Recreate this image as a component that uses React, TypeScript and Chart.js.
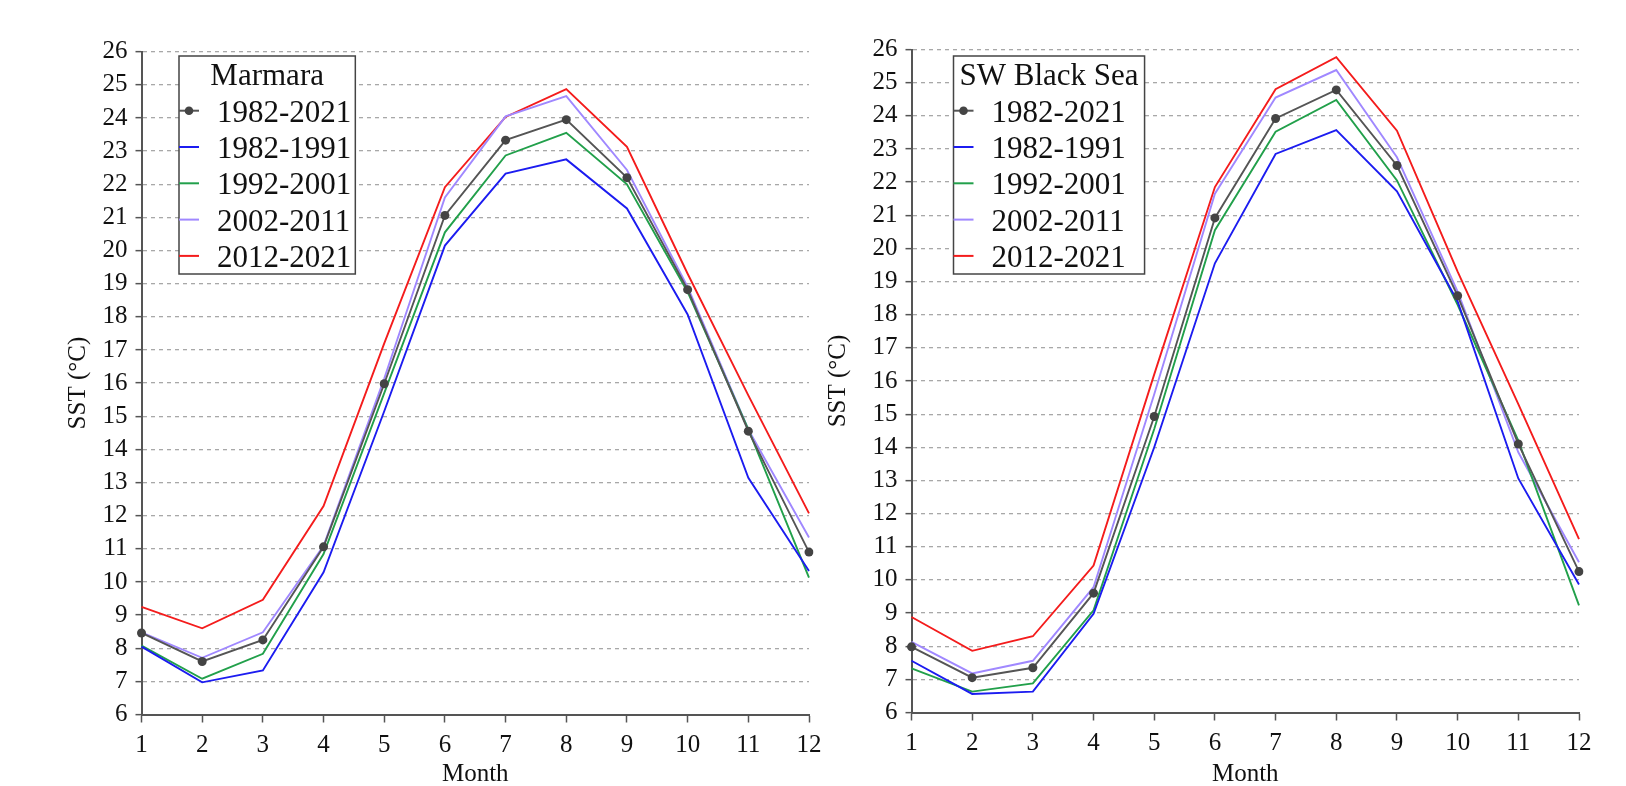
import React, { useEffect, useRef } from 'react';
import { Chart, registerables } from 'chart.js';

Chart.register(...registerables);

// ---------- data ----------
const MONTHS = ['1', '2', '3', '4', '5', '6', '7', '8', '9', '10', '11', '12'];
const SERIES_LABELS = ['1982-2021', '1982-1991', '1992-2001', '2002-2011', '2012-2021'];
const Y_MIN = 6;
const Y_MAX = 26;

const MARMARA_1982_2021 = [8.46, 7.6, 8.25, 11.06, 15.98, 21.06, 23.33, 23.95, 22.2, 18.82, 14.55, 10.9];
const MARMARA_1982_1991 = [8.05, 6.97, 7.33, 10.29, 15.15, 20.15, 22.32, 22.75, 21.27, 18.07, 13.14, 10.33];
const MARMARA_1992_2001 = [8.08, 7.08, 7.83, 10.84, 15.7, 20.55, 22.87, 23.55, 22.0, 18.75, 14.6, 10.13];
const MARMARA_2002_2011 = [8.48, 7.71, 8.48, 11.09, 16.14, 21.6, 24.05, 24.66, 22.43, 18.9, 14.6, 11.34];
const MARMARA_2012_2021 = [9.25, 8.6, 9.46, 12.29, 17.2, 21.91, 24.03, 24.87, 23.13, 19.3, 15.63, 12.07];

const BLACKSEA_1982_2021 = [7.98, 7.05, 7.35, 9.6, 14.93, 20.92, 23.92, 24.78, 22.5, 18.57, 14.1, 10.25];
const BLACKSEA_1982_1991 = [7.56, 6.56, 6.63, 8.98, 14.0, 19.55, 22.85, 23.57, 21.72, 18.4, 13.06, 9.86];
const BLACKSEA_1992_2001 = [7.33, 6.63, 6.88, 9.08, 14.55, 20.55, 23.52, 24.48, 22.05, 18.3, 14.2, 9.23];
const BLACKSEA_2002_2011 = [8.13, 7.18, 7.56, 9.78, 15.6, 21.65, 24.55, 25.38, 22.75, 18.7, 13.85, 10.53];
const BLACKSEA_2012_2021 = [8.88, 7.86, 8.3, 10.43, 16.2, 21.85, 24.8, 25.77, 23.55, 19.3, 15.3, 11.23];

// ---------- styles ----------
const COLORS = ['#555555', '#1c1cf0', '#22a04b', '#a088ff', '#f41c1c'];
const FONT = '"Liberation Serif", "Times New Roman", serif';
const TEXT = '#111111';
const AXIS = '#555555';
const CANVAS_H = 786;
const TICK_FONT = 25;

type PanelCfg = {
  title: string;
  series: number[][];
  left: number;
  width: number;
  yWidth: number;
  padRight: number;
  padTop: number;
  xHeight: number;
  yTitlePad: number;
  legendOffsetX: number;
  legendTop: number;
};

const PANELS: PanelCfg[] = [
  {
    title: 'Marmara',
    series: [MARMARA_1982_2021, MARMARA_1982_1991, MARMARA_1992_2001, MARMARA_2002_2011, MARMARA_2012_2021],
    left: 0,
    width: 826,
    yWidth: 141.5,
    padRight: 17,
    padTop: 51.7,
    xHeight: 71.5,
    yTitlePad: 66,
    legendOffsetX: 37.5,
    legendTop: 56,
  },
  {
    title: 'SW Black Sea',
    series: [BLACKSEA_1982_2021, BLACKSEA_1982_1991, BLACKSEA_1992_2001, BLACKSEA_2002_2011, BLACKSEA_2012_2021],
    left: 800,
    width: 826,
    yWidth: 111.5,
    padRight: 47,
    padTop: 49.5,
    xHeight: 73.5,
    yTitlePad: 26,
    legendOffsetX: 42,
    legendTop: 56,
  },
];

const LEGEND_FONT = 31;

const boxLegend = {
  id: 'boxLegend',
  afterDraw(chart: any, _args: any, opts: any) {
    const { ctx, chartArea } = chart;
    ctx.save();
    ctx.font = `${LEGEND_FONT}px ${FONT}`;
    const titleW = ctx.measureText(opts.title).width;
    const datasets = chart.data.datasets;
    let itemW = 0;
    datasets.forEach((ds: any) => {
      itemW = Math.max(itemW, ctx.measureText(ds.label).width);
    });
    const width = Math.max(38 + itemW + 4, titleW + 12);
    const height = 218;
    const left = chartArea.left + opts.offsetX;
    const top = opts.top;

    ctx.fillStyle = '#ffffff';
    ctx.fillRect(left, top, width, height);
    ctx.strokeStyle = '#444444';
    ctx.lineWidth = 1.5;
    ctx.strokeRect(left, top, width, height);

    ctx.fillStyle = TEXT;
    ctx.textBaseline = 'alphabetic';
    ctx.textAlign = 'center';
    ctx.fillText(opts.title, left + width / 2, top + 29);

    ctx.textAlign = 'left';
    datasets.forEach((ds: any, i: number) => {
      const ly = top + 54.7 + i * 36.3;
      ctx.strokeStyle = ds.borderColor;
      ctx.lineWidth = 2;
      ctx.beginPath();
      ctx.moveTo(left, ly);
      ctx.lineTo(left + 20, ly);
      ctx.stroke();
      if (ds.pointRadius > 0) {
        ctx.fillStyle = ds.pointBackgroundColor;
        ctx.beginPath();
        ctx.arc(left + 10, ly, 4.3, 0, Math.PI * 2);
        ctx.fill();
      }
      ctx.fillStyle = TEXT;
      ctx.fillText(ds.label, left + 38, top + 65.7 + i * 36.3);
    });
    ctx.restore();
  },
};

function Panel({ cfg }: { cfg: PanelCfg }) {
  const ref = useRef<HTMLCanvasElement>(null);

  useEffect(() => {
    const canvas = ref.current;
    if (!canvas) return;
    const datasets = cfg.series.map((data, i) => ({
      label: SERIES_LABELS[i],
      data,
      borderColor: COLORS[i],
      backgroundColor: COLORS[i],
      borderWidth: 1.9,
      tension: 0,
      fill: false,
      pointRadius: i === 0 ? 4.5 : 0,
      pointHoverRadius: i === 0 ? 4.5 : 0,
      pointBackgroundColor: '#444444',
      pointBorderWidth: 0,
    }));

    const chart = new Chart(canvas, {
      type: 'line',
      data: { labels: MONTHS, datasets },
      plugins: [boxLegend],
      options: {
        animation: false,
        responsive: false,
        devicePixelRatio: 1,
        layout: { padding: { top: cfg.padTop, right: cfg.padRight, bottom: 0, left: 0 } },
        plugins: {
          legend: { display: false },
          tooltip: { enabled: false },
          boxLegend: {
            title: cfg.title,
            offsetX: cfg.legendOffsetX,
            top: cfg.legendTop,
          },
        } as any,
        scales: {
          x: {
            type: 'category',
            offset: false,
            afterFit: (scale: any) => {
              scale.height = cfg.xHeight;
            },
            grid: {
              drawOnChartArea: false,
              drawTicks: true,
              tickLength: 8,
              tickColor: AXIS,
              tickWidth: 1.5,
            },
            border: { display: true, color: AXIS, width: 2 },
            ticks: {
              color: TEXT,
              font: { family: FONT, size: TICK_FONT, lineHeight: 1.5 },
              padding: 4,
              maxRotation: 0,
              autoSkip: false,
            },
            title: {
              display: true,
              text: 'Month',
              color: TEXT,
              font: { family: FONT, size: TICK_FONT, lineHeight: 0.9 },
              padding: { top: 0, bottom: 0 },
            },
          },
          y: {
            type: 'linear',
            min: Y_MIN,
            max: Y_MAX,
            afterFit: (scale: any) => {
              scale.width = cfg.yWidth;
            },
            grid: {
              color: '#a8a8a8',
              lineWidth: 1.3,
              drawTicks: true,
              tickLength: 6,
              tickColor: AXIS,
              tickWidth: 1.5,
              tickBorderDash: [],
            },
            border: { display: true, color: AXIS, width: 2, dash: [4, 4] },
            ticks: {
              stepSize: 1,
              autoSkip: false,
              color: TEXT,
              font: { family: FONT, size: TICK_FONT },
              padding: 8,
            },
            title: {
              display: true,
              text: 'SST (°C)',
              color: TEXT,
              font: { family: FONT, size: TICK_FONT, lineHeight: 1 },
              padding: { top: cfg.yTitlePad, bottom: 0 },
            },
          },
        },
      } as any,
    });
    return () => chart.destroy();
  }, [cfg]);

  return (
    <canvas
      ref={ref}
      width={cfg.width}
      height={CANVAS_H}
      style={{ position: 'absolute', left: cfg.left, top: 0, width: cfg.width, height: CANVAS_H }}
    />
  );
}

export default function App() {
  return (
    <div style={{ position: 'absolute', left: 0, top: 0, width: 1626, height: CANVAS_H, background: '#ffffff', overflow: 'hidden' }}>
      {PANELS.map((p) => (
        <Panel key={p.title} cfg={p} />
      ))}
    </div>
  );
}
